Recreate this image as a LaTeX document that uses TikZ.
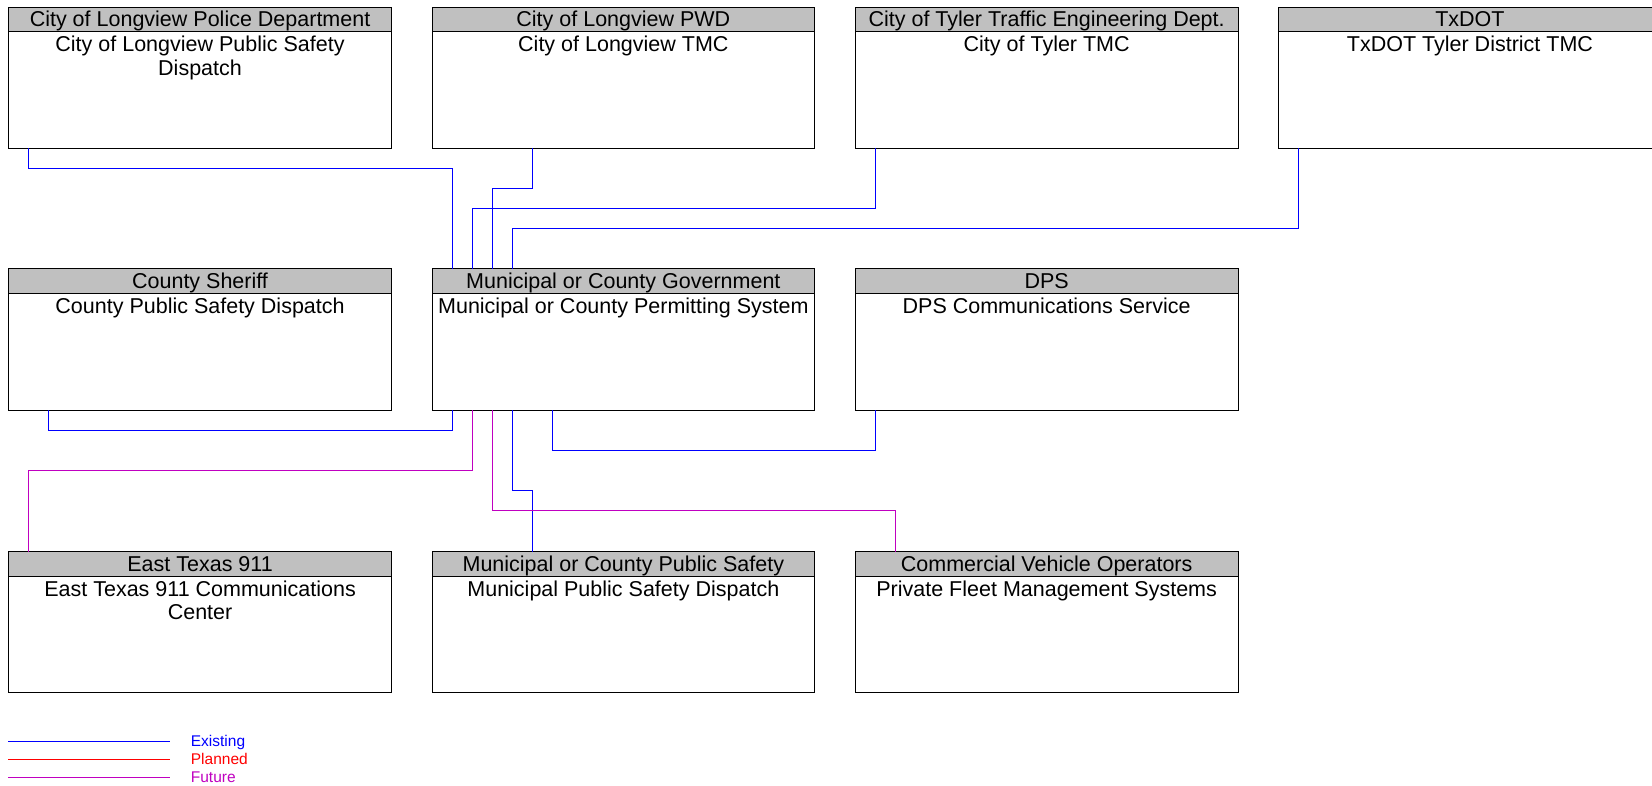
\documentclass[tikz,border=0pt]{standalone}
\usepackage{fontspec}
\setmainfont{Liberation Sans}
\definecolor{exist}{RGB}{0,0,255}
\definecolor{plan}{RGB}{255,0,0}
\definecolor{fut}{RGB}{192,0,192}
\definecolor{hdrgray}{RGB}{192,192,192}
\tikzset{
  sysbox/.style={draw=black, line width=1pt, fill=white, minimum width=382.7pt, minimum height=141pt, inner sep=0pt, outer sep=0pt, anchor=north west},
  hdrbox/.style={draw=black, line width=1pt, fill=hdrgray, minimum width=382.7pt, minimum height=24.3pt, inner sep=0pt, outer sep=0pt, anchor=north west},
  hdrtext/.style={font=\fontsize{21.5}{23.5}\selectfont, inner sep=0pt, anchor=base},
  bodytext/.style={font=\fontsize{21.5}{23.5}\selectfont, inner sep=0pt, anchor=north, align=center},
  existing/.style={draw=exist, line width=1pt},
  planned/.style={draw=plan, line width=1pt},
  future/.style={draw=fut, line width=1pt},
  legtext/.style={font=\fontsize{15.5}{17}\selectfont, inner sep=0pt, anchor=base west}
}
\newcommand\archbox[5]{%
  \node[sysbox] (#1) at (#2,#3) {};
  \node[hdrbox] (#1-h) at (#2,#3) {};
  \node[hdrtext] (#1-ht) at (#2+191.35,#3+19.5) {#4};
  \node[bodytext] (#1-bt) at (#2+191.35,#3+28.6) {#5};
}
\begin{document}
\begin{tikzpicture}[x=1pt,y=-1pt]
\useasboundingbox (0,0) rectangle (1652,786);
\clip (0,0) rectangle (1652,786);
\fill[white] (0,0) rectangle (1652,786);
% row 1
\archbox{police}{8.7}{7.3}{City of Longview Police Department}{City of Longview Public Safety\\Dispatch}
\archbox{pwd}{432}{7.3}{City of Longview PWD}{City of Longview TMC}
\archbox{tyler}{855.3}{7.3}{City of Tyler Traffic Engineering Dept.}{City of Tyler TMC}
\archbox{txdot}{1278.6}{7.3}{TxDOT}{TxDOT Tyler District TMC}
% row 2
\archbox{sheriff}{8.7}{269}{County Sheriff}{County Public Safety Dispatch}
\archbox{muni}{432}{269}{Municipal or County Government}{Municipal or County Permitting System}
\archbox{dps}{855.3}{269}{DPS}{DPS Communications Service}
% row 3
\archbox{etx}{8.7}{551.7}{East Texas 911}{East Texas 911 Communications\\Center}
\archbox{mps}{432}{551.7}{Municipal or County Public Safety}{Municipal Public Safety Dispatch}
\archbox{cvo}{855.3}{551.7}{Commercial Vehicle Operators}{Private Fleet Management Systems}
% connectors
\draw[existing] ([xshift=20pt]police.south west) -- ++(0,20) -| ([xshift=20pt]muni.north west);
\draw[existing] ([xshift=100pt]pwd.south west) -- ++(0,40) -| ([xshift=60pt]muni.north west);
\draw[existing] ([xshift=20pt]tyler.south west) -- ++(0,60) -| ([xshift=40pt]muni.north west);
\draw[existing] ([xshift=20pt]txdot.south west) -- ++(0,80) -| ([xshift=80pt]muni.north west);
\draw[existing] ([xshift=40pt]sheriff.south west) -- ++(0,20) -| ([xshift=20pt]muni.south west);
\draw[existing] ([xshift=20pt]dps.south west) -- ++(0,40) -| ([xshift=120pt]muni.south west);
\draw[future] ([xshift=40pt]muni.south west) -- ++(0,60) -| ([xshift=20pt]etx.north west);
\draw[existing] ([xshift=80pt]muni.south west) -- ++(0,80) -| ([xshift=100pt]mps.north west);
\draw[future] ([xshift=60pt]muni.south west) -- ++(0,100) -| ([xshift=40pt]cvo.north west);
% legend
\coordinate (l1a) at (8,741.3); \coordinate (l1b) at (170,741.3);
\coordinate (l2a) at (8,759.3); \coordinate (l2b) at (170,759.3);
\coordinate (l3a) at (8,777.3); \coordinate (l3b) at (170,777.3);
\draw[existing] (l1a) -- (l1b);
\draw[planned] (l2a) -- (l2b);
\draw[future] (l3a) -- (l3b);
\node[legtext, text=exist] (leg1) at (190.7,746.8) {Existing};
\node[legtext, text=plan] (leg2) at (190.7,764.8) {Planned};
\node[legtext, text=fut] (leg3) at (190.7,782.6) {Future};
\end{tikzpicture}
\end{document}
